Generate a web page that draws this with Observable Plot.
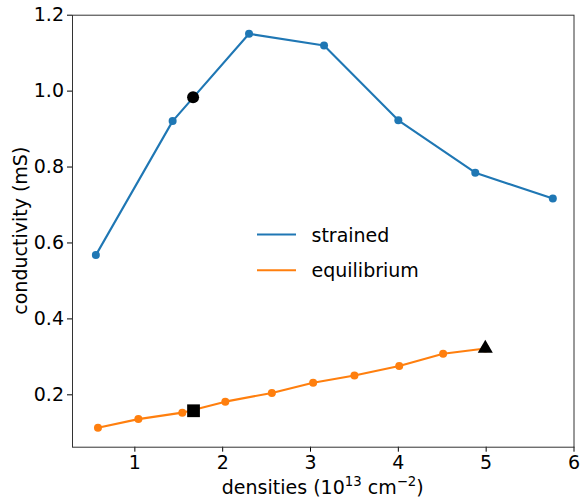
<!DOCTYPE html>
<html><head>
<meta charset="utf-8">
<script src="https://cdn.jsdelivr.net/npm/d3@7"></script>
<script src="https://cdn.jsdelivr.net/npm/@observablehq/plot@0.6"></script>
<style>
body{margin:0;background:#fff;}
#wrap{position:relative;width:587px;height:497px;}
</style>
</head><body><div id="wrap"></div>
<script>
// Data
const strainedX = [0.556, 1.43, 2.30, 3.154, 4.0, 4.876, 5.759];
const strainedY = [0.568, 0.921, 1.151, 1.120, 0.923, 0.785, 0.717];
const equilX = [0.58, 1.04, 1.54, 2.03, 2.56, 3.03, 3.50, 4.01, 4.51, 4.99];
const equilY = [0.113, 0.136, 0.153, 0.182, 0.205, 0.232, 0.251, 0.276, 0.308, 0.322];
const circleX = [1.663], circleY = [0.984];
const squareX = [1.668], squareY = [0.158];
const triangleX = [4.99], triangleY = [0.322];
const xTicks = [1, 2, 3, 4, 5, 6];
const yTicks = [0.2, 0.4, 0.6, 0.8, 1.0, 1.2];
const seriesNames = ["strained", "equilibrium"];
const seriesColors = ["#1f77b4", "#ff7f0e"];

const strained = strainedX.map((x, i) => ({x, y: strainedY[i]}));
const equil = equilX.map((x, i) => ({x, y: equilY[i]}));
const pts = (xs, ys) => xs.map((x, i) => ({x, y: ys[i]}));

const W = 587, H = 497, FS = 19;
const chart = Plot.plot({
  width: W, height: H,
  marginLeft: 72, marginRight: 13.5, marginTop: 14.7, marginBottom: 50.3,
  style: {fontFamily: "DejaVu Sans", fontSize: FS + "px", color: "#000", background: "#fff"},
  x: {domain: [0.29, 6.0], ticks: xTicks, tickFormat: d => String(d)},
  y: {domain: [0.062, 1.2], ticks: yTicks, tickFormat: d => d.toFixed(1)},
  marks: [
    Plot.axisX({ticks: xTicks, tickFormat: d => String(d), tickSize: 5, tickPadding: 3, label: null, stroke: "#000"}),
    Plot.axisY({ticks: yTicks, tickFormat: d => d.toFixed(1), tickSize: 5, tickPadding: 3.5, label: null, stroke: "#000"}),
    Plot.line(strained, {x: "x", y: "y", stroke: seriesColors[0], strokeWidth: 2.1}),
    Plot.dot(strained, {x: "x", y: "y", fill: seriesColors[0], r: 4}),
    Plot.line(equil, {x: "x", y: "y", stroke: seriesColors[1], strokeWidth: 2.1}),
    Plot.dot(equil, {x: "x", y: "y", fill: seriesColors[1], r: 4}),
    Plot.dot(pts(circleX, circleY), {x: "x", y: "y", fill: "#000", r: 6, symbol: "circle"}),
    Plot.dot(pts(squareX, squareY), {x: "x", y: "y", fill: "#000", r: 7.2, symbol: "square"}),
    Plot.dot(pts(triangleX, triangleY), {x: "x", y: "y", fill: "#000", r: 5.6, symbol: "triangle"}),
    Plot.frame({stroke: "#333", strokeWidth: 1})
  ]
});
document.getElementById("wrap").appendChild(chart);

const svg = d3.select(chart);
const fx0 = 72, fx1 = W - 13.5, fy0 = 14.7, fy1 = H - 50.3;
// x label with superscripts
const xl = svg.append("text")
  .attr("x", (fx0 + fx1) / 2).attr("y", 493.5)
  .attr("text-anchor", "middle")
  .attr("font-family", "DejaVu Sans").attr("font-size", FS).attr("fill", "#000");
xl.append("tspan").text("densities (10");
xl.append("tspan").attr("font-size", 13.3).attr("dy", -8).text("13");
xl.append("tspan").attr("dy", 8).text(" cm");
xl.append("tspan").attr("font-size", 13.3).attr("dy", -8).text("\u22122");
xl.append("tspan").attr("dy", 8).text(")");
// y label
svg.append("text")
  .attr("transform", `translate(27,${(fy0 + fy1) / 2}) rotate(-90)`)
  .attr("text-anchor", "middle")
  .attr("font-family", "DejaVu Sans").attr("font-size", FS).attr("fill", "#000")
  .text("conductivity (mS)");
// legend
const lg = svg.append("g").attr("font-family", "DejaVu Sans").attr("font-size", FS).attr("text-anchor", "start");
seriesNames.forEach((name, i) => {
  const yy = 234.5 + i * 35.7;
  lg.append("line").attr("x1", 257).attr("x2", 296).attr("y1", yy).attr("y2", yy)
    .attr("stroke", seriesColors[i]).attr("stroke-width", 2);
  lg.append("text").attr("x", 311.5).attr("y", yy + 7).attr("fill", "#000").text(name);
});
</script>
</body></html>
